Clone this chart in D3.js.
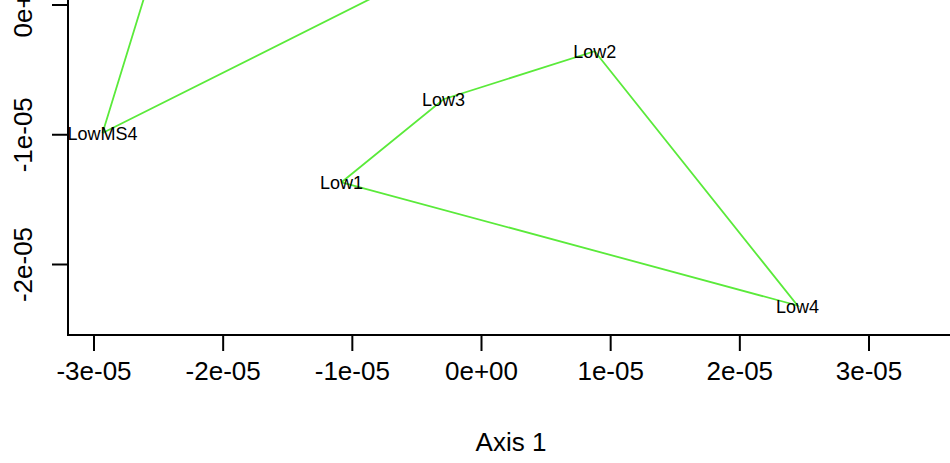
<!DOCTYPE html>
<html>
<head>
<meta charset="utf-8">
<script src="https://cdn.jsdelivr.net/npm/d3@7"></script>
<style>
  html, body { margin: 0; padding: 0; background: #fff; }
  svg { display: block; }
  text { font-family: "Liberation Sans", Arial, Helvetica, sans-serif; fill: #000; }
</style>
</head>
<body>
<svg id="chart" width="950" height="463"></svg>
<script>
// ---- data ----
const lowNames = ["Low1", "Low3", "Low2", "Low4"];
const lowX = [-1.08e-5, -0.29e-5, 0.88e-5, 2.45e-5];
const lowY = [-1.37e-5, -0.73e-5, -0.36e-5, -2.32e-5];

// LowMS group: only LowMS4 is inside the view; the other hull vertices lie above it
const msNames = ["LowMS4", "", ""];
const msX = [-2.93e-5, -2.47e-5, 0.06e-5];
const msY = [-0.99e-5, 0.50e-5, 0.50e-5];

const xTicks = [-3e-5, -2e-5, -1e-5, 0, 1e-5, 2e-5, 3e-5];
const xTickLabels = ["-3e-05", "-2e-05", "-1e-05", "0e+00", "1e-05", "2e-05", "3e-05"];
const yTicks = [0, -1e-5, -2e-5];
const yTickLabels = ["0e+00", "-1e-05", "-2e-05"];
const xTitle = "Axis 1";

// ---- layout ----
const svg = d3.select("#chart");
const W = 950, H = 463;
const axisX = 68, axisY = 335;

const x = d3.scaleLinear().domain([-3e-5, 3e-5]).range([93.5, 868.5]);
const y = d3.scaleLinear().domain([0, -2e-5]).range([4.5, 264]);

svg.append("clipPath").attr("id", "plotclip")
  .append("rect").attr("x", axisX).attr("y", -50).attr("width", W).attr("height", axisY + 50);

const plot = svg.append("g").attr("clip-path", "url(#plotclip)");

const lineGen = d3.line().x(d => x(d.x)).y(d => y(d.y));

const lowPts = lowNames.map((n, i) => ({ name: n, x: lowX[i], y: lowY[i] }));
const msPts = msNames.map((n, i) => ({ name: n, x: msX[i], y: msY[i] }));

[msPts, lowPts].forEach(pts => {
  plot.append("path")
    .attr("d", lineGen(pts.concat([pts[0]])))
    .attr("fill", "none")
    .attr("stroke", "#5aea3a")
    .attr("stroke-width", 1.8);
});

plot.selectAll("text.lbl")
  .data(lowPts.concat(msPts).filter(d => d.name))
  .enter().append("text")
  .attr("class", "lbl")
  .attr("x", d => x(d.x))
  .attr("y", d => y(d.y))
  .attr("dy", "0.4em")
  .attr("text-anchor", "middle")
  .attr("font-size", 18)
  .text(d => d.name);

// axes frame (L shape)
svg.append("path")
  .attr("d", `M${axisX},-5 L${axisX},${axisY} L${W + 5},${axisY}`)
  .attr("fill", "none").attr("stroke", "#000").attr("stroke-width", 2);

const xAxis = d3.axisBottom(x).tickValues(xTicks)
  .tickFormat((d, i) => xTickLabels[i]).tickSize(16).tickPadding(11);
const gx = svg.append("g").attr("transform", `translate(0,${axisY})`).call(xAxis);
gx.select(".domain").remove();
gx.selectAll(".tick line").attr("stroke", "#000").attr("stroke-width", 2);
gx.selectAll(".tick text").attr("font-size", 26)
  .attr("font-family", "Liberation Sans, Arial, sans-serif").attr("fill", "#000");

const yAxis = d3.axisLeft(y).tickValues(yTicks)
  .tickFormat((d, i) => yTickLabels[i]).tickSize(16).tickPadding(0);
const gy = svg.append("g").attr("transform", `translate(${axisX},0)`).call(yAxis);
gy.select(".domain").remove();
gy.selectAll(".tick line").attr("stroke", "#000").attr("stroke-width", 2);
gy.selectAll(".tick text")
  .attr("font-size", 26)
  .attr("font-family", "Liberation Sans, Arial, sans-serif")
  .attr("fill", "#000")
  .attr("x", null).attr("dy", null)
  .attr("text-anchor", "middle")
  .attr("dominant-baseline", "central")
  .attr("transform", (d, i) => `translate(${23 - axisX},${i === 0 ? -4 : 0}) rotate(-90)`);

svg.append("text")
  .attr("x", 511).attr("y", 442)
  .attr("dy", "0.36em")
  .attr("text-anchor", "middle")
  .attr("font-size", 26)
  .text(xTitle);
</script>
</body>
</html>
